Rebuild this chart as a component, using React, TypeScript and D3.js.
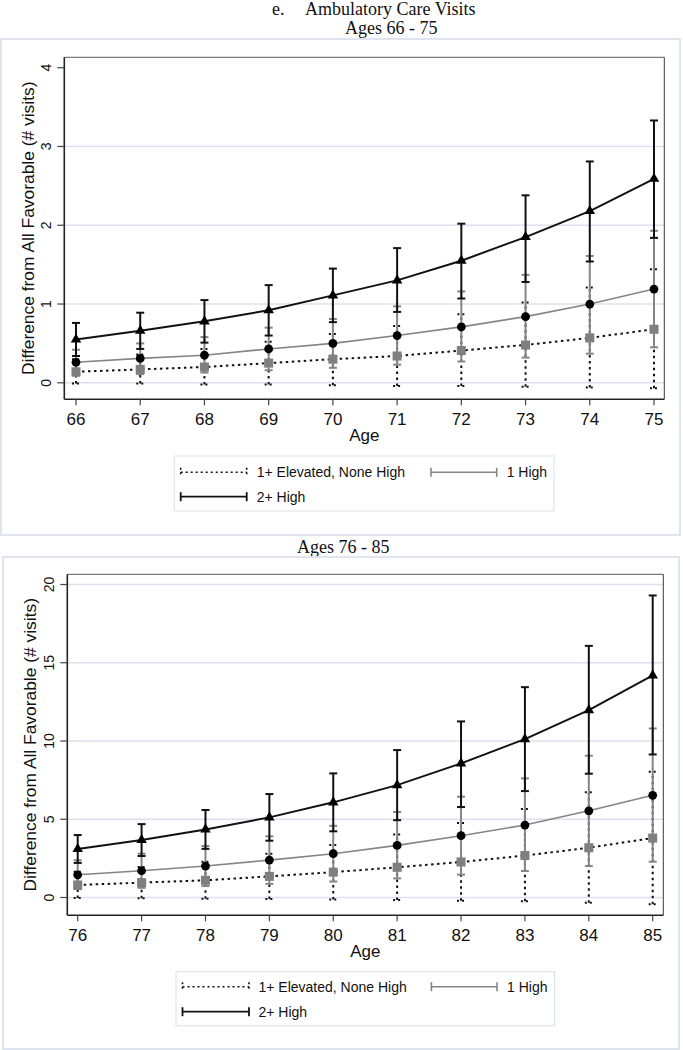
import React from "react";
import * as d3 from "d3";

// ---------- data ----------
const agesTop = [66, 67, 68, 69, 70, 71, 72, 73, 74, 75];
const topElev = [0.14, 0.17, 0.2, 0.25, 0.3, 0.34, 0.41, 0.48, 0.57, 0.68];
const topElevLo = [-0.01, -0.01, -0.02, -0.02, -0.03, -0.04, -0.04, -0.05, -0.06, -0.07];
const topElevHi = [0.3, 0.36, 0.43, 0.52, 0.62, 0.72, 0.87, 1.02, 1.21, 1.44];
const topOne = [0.26, 0.31, 0.35, 0.43, 0.5, 0.6, 0.71, 0.84, 1.0, 1.19];
const topOneLo = [0.09, 0.11, 0.13, 0.16, 0.19, 0.23, 0.27, 0.32, 0.37, 0.45];
const topOneHi = [0.42, 0.5, 0.58, 0.7, 0.81, 0.97, 1.16, 1.37, 1.61, 1.93];
const topTwo = [0.55, 0.66, 0.78, 0.92, 1.11, 1.3, 1.55, 1.85, 2.18, 2.59];
const topTwoLo = [0.34, 0.43, 0.51, 0.6, 0.77, 0.9, 1.07, 1.28, 1.54, 1.84];
const topTwoHi = [0.76, 0.89, 1.05, 1.24, 1.45, 1.71, 2.02, 2.38, 2.81, 3.33];
const topYTicks = [0, 1, 2, 3, 4];
const topGrid = [0, 1, 2, 3];

const agesBot = [76, 77, 78, 79, 80, 81, 82, 83, 84, 85];
const botElev = [0.8, 0.95, 1.1, 1.35, 1.62, 1.93, 2.27, 2.68, 3.18, 3.8];
const botElevLo = [-0.03, -0.05, -0.08, -0.1, -0.12, -0.16, -0.2, -0.24, -0.33, -0.43];
const botElevHi = [1.65, 1.95, 2.28, 2.8, 3.36, 4.02, 4.76, 5.66, 6.72, 8.03];
const botOne = [1.45, 1.71, 2.01, 2.39, 2.8, 3.33, 3.95, 4.63, 5.54, 6.53];
const botOneLo = [0.54, 0.62, 0.73, 0.87, 1.02, 1.22, 1.46, 1.69, 2.01, 2.29];
const botOneHi = [2.38, 2.8, 3.29, 3.91, 4.58, 5.46, 6.44, 7.61, 9.06, 10.8];
const botTwo = [3.1, 3.67, 4.35, 5.12, 6.08, 7.18, 8.57, 10.12, 11.97, 14.19];
const botTwoLo = [2.21, 2.65, 3.11, 3.63, 4.23, 4.94, 5.78, 6.8, 7.91, 9.14];
const botTwoHi = [3.99, 4.69, 5.59, 6.61, 7.93, 9.42, 11.25, 13.44, 16.08, 19.3];
const botYTicks = [0, 5, 10, 15, 20];
const botGrid = [0, 5, 10, 15, 20];

const seriesNames = ["1+ Elevated, None High", "1 High", "2+ High"];
const mainTitlePrefix = "e.";
const mainTitle = "Ambulatory Care Visits";
const subTitles = ["Ages 66 - 75", "Ages 76 - 85"];
const xTitle = "Age";
const yTitle = "Difference from All Favorable (# visits)";

// ---------- styles ----------
const GRAY = "#858585";
const SQ = "#7f7f7f";
const FRAME = "#dfe5ef";
const GRID = "#dbe2ee";
const SANS = "'Liberation Sans', Arial, sans-serif";
const SERIF = "'Liberation Serif', 'Times New Roman', serif";
const DOT = "2.5,3.5";

type PanelProps = {
  frame: [number, number, number, number];
  box: [number, number, number, number];
  xDom: [number, number];
  xRange: [number, number];
  yDom: [number, number];
  yRange: [number, number];
  ages: number[];
  elev: number[]; elevLo: number[]; elevHi: number[];
  one: number[]; oneLo: number[]; oneHi: number[];
  two: number[]; twoLo: number[]; twoHi: number[];
  yTicks: number[];
  grid: number[];
  yLabelX: number;
  yTitleX: number;
  legend: { x0: number; x1: number; y0: number; y1: number; r1: number; r2: number; k1: number; k2: number; t1: number; g1: number; g2: number; t2: number };
};

function ErrBars({ x, y, ages, lo, hi, color, dash }: any) {
  return (
    <g>
      {ages.map((a: number, i: number) => (
        <g key={i} stroke={color} strokeWidth={2} fill="none">
          <line x1={x(a)} x2={x(a)} y1={y(lo[i])} y2={y(hi[i])} strokeDasharray={dash} />
          <line x1={x(a) - 4} x2={x(a) + 4} y1={y(lo[i])} y2={y(lo[i])} strokeDasharray={dash ? "2,3" : undefined} />
          <line x1={x(a) - 4} x2={x(a) + 4} y1={y(hi[i])} y2={y(hi[i])} strokeDasharray={dash ? "2,3" : undefined} />
        </g>
      ))}
    </g>
  );
}

function LegendKey({ x0, x1, y, color, dash, width }: any) {
  return (
    <g stroke={color} strokeWidth={width} fill="none">
      <line x1={x0} x2={x1} y1={y} y2={y} strokeDasharray={dash} />
      <line x1={x0} x2={x0} y1={y - 4.5} y2={y + 4.5} strokeDasharray={dash ? "2,2.5" : undefined} />
      <line x1={x1} x2={x1} y1={y - 4.5} y2={y + 4.5} strokeDasharray={dash ? "2,2.5" : undefined} />
    </g>
  );
}

function Panel(p: PanelProps) {
  const x = d3.scaleLinear().domain(p.xDom).range(p.xRange);
  const y = d3.scaleLinear().domain(p.yDom).range(p.yRange);
  const line = (vals: number[]) =>
    d3.line<number>().x((_, i) => x(p.ages[i])).y((v) => y(v))(vals) || "";
  const tri = d3.symbol().type(d3.symbolTriangle).size(48)() || "";
  const sq = d3.symbol().type(d3.symbolSquare).size(82)() || "";
  const [bx0, by0, bx1, by1] = p.box;
  const [fx0, fy0, fx1, fy1] = p.frame;
  const L = p.legend;
  return (
    <g>
      <rect x={fx0} y={fy0} width={fx1 - fx0} height={fy1 - fy0} fill="white" stroke={FRAME} strokeWidth={2} />
      {/* gridlines */}
      {p.grid.map((g) => (
        <line key={g} x1={bx0} x2={bx1} y1={y(g)} y2={y(g)} stroke={GRID} strokeWidth={1.5} />
      ))}
      {/* box top/right */}
      <line x1={bx0} x2={bx1} y1={by0} y2={by0} stroke="#5a5a5a" strokeWidth={1} />
      <line x1={bx1} x2={bx1} y1={by0} y2={by1} stroke="#3a3a3a" strokeWidth={1} />
      {/* axes */}
      <line x1={bx0} x2={bx0} y1={by0} y2={by1} stroke="#222" strokeWidth={1.6} />
      <line x1={bx0} x2={bx1} y1={by1} y2={by1} stroke="#222" strokeWidth={1.6} />
      {p.yTicks.map((t) => (
        <g key={t}>
          <line x1={bx0 - 7} x2={bx0} y1={y(t)} y2={y(t)} stroke="#444" strokeWidth={1.2} />
          <text
            transform={`translate(${p.yLabelX},${y(t)}) rotate(-90)`}
            textAnchor="middle"
            fontFamily={SANS}
            fontSize={14}
            fill="#111"
          >
            {t}
          </text>
        </g>
      ))}
      {p.ages.map((a) => (
        <g key={a}>
          <line x1={x(a)} x2={x(a)} y1={by1} y2={by1 + 6} stroke="#444" strokeWidth={1.2} />
          <text x={x(a)} y={by1 + 26} textAnchor="middle" fontFamily={SANS} fontSize={17} fill="#111">
            {a}
          </text>
        </g>
      ))}
      <text x={(bx0 + bx1) / 2} y={by1 + 42} textAnchor="middle" fontFamily={SANS} fontSize={17} fill="#111">
        {xTitle}
      </text>
      <text
        transform={`translate(${p.yTitleX},${(by0 + by1) / 2}) rotate(-90)`}
        textAnchor="middle"
        fontFamily={SANS}
        fontSize={17.4}
        fill="#111"
      >
        {yTitle}
      </text>
      {/* error bars */}
      <ErrBars x={x} y={y} ages={p.ages} lo={p.elevLo} hi={p.elevHi} color="#111" dash={DOT} />
      <ErrBars x={x} y={y} ages={p.ages} lo={p.oneLo} hi={p.oneHi} color={GRAY} />
      <ErrBars x={x} y={y} ages={p.ages} lo={p.twoLo} hi={p.twoHi} color="#111" />
      {/* lines */}
      <path d={line(p.elev)} fill="none" stroke="#111" strokeWidth={2} strokeDasharray={DOT} />
      <path d={line(p.one)} fill="none" stroke={GRAY} strokeWidth={1.6} />
      <path d={line(p.two)} fill="none" stroke="#111" strokeWidth={2} />
      {/* markers */}
      {p.ages.map((a, i) => (
        <path key={"s" + i} d={sq} transform={`translate(${x(a)},${y(p.elev[i])})`} fill={SQ} />
      ))}
      {p.ages.map((a, i) => (
        <circle key={"c" + i} cx={x(a)} cy={y(p.one[i])} r={4.4} fill="#000" />
      ))}
      {p.ages.map((a, i) => (
        <path key={"t" + i} d={tri} transform={`translate(${x(a)},${y(p.two[i])})`} fill="#000" />
      ))}
      {/* legend */}
      <rect x={L.x0} y={L.y0} width={L.x1 - L.x0} height={L.y1 - L.y0} fill="white" stroke={FRAME} strokeWidth={1.2} />
      <LegendKey x0={L.k1} x1={L.k2} y={L.r1} color="#111" dash="2,3" width={1.6} />
      <text x={L.t1} y={L.r1 + 5} fontFamily={SANS} fontSize={14} fill="#111">{seriesNames[0]}</text>
      <LegendKey x0={L.g1} x1={L.g2} y={L.r1} color={GRAY} width={1.6} />
      <text x={L.t2} y={L.r1 + 5} fontFamily={SANS} fontSize={14} fill="#111">{seriesNames[1]}</text>
      <LegendKey x0={L.k1} x1={L.k2} y={L.r2} color="#111" width={1.8} />
      <text x={L.t1} y={L.r2 + 5} fontFamily={SANS} fontSize={14} fill="#111">{seriesNames[2]}</text>
    </g>
  );
}

export default function App() {
  return (
    <svg
      width={683}
      height={1050}
      style={{ position: "absolute", left: 0, top: 0, background: "white" }}
    >
      <text x={272} y={15} fontFamily={SERIF} fontSize={18} fill="#111">{mainTitlePrefix}</text>
      <text x={305} y={15} fontFamily={SERIF} fontSize={18} fill="#111">{mainTitle}</text>
      <text x={345} y={34} fontFamily={SERIF} fontSize={18} fill="#111">{subTitles[0]}</text>
      <Panel
        frame={[1, 39, 680, 535]}
        box={[64.3, 57.3, 664.3, 399.3]}
        xDom={[agesTop[0], agesTop[agesTop.length - 1]]}
        xRange={[76, 654]}
        yDom={[0, 4]}
        yRange={[382.8, 67.7]}
        ages={agesTop}
        elev={topElev} elevLo={topElevLo} elevHi={topElevHi}
        one={topOne} oneLo={topOneLo} oneHi={topOneHi}
        two={topTwo} twoLo={topTwoLo} twoHi={topTwoHi}
        yTicks={topYTicks}
        grid={topGrid}
        yLabelX={51}
        yTitleX={33.5}
        legend={{ x0: 174.3, x1: 554, y0: 456, y1: 511, r1: 472.3, r2: 496.7, k1: 180.7, k2: 246.7, t1: 256.7, g1: 431, g2: 496.7, t2: 506.7 }}
      />
      <text x={297} y={553} fontFamily={SERIF} fontSize={18} fill="#111">{subTitles[1]}</text>
      <Panel
        frame={[3, 557, 679, 1049]}
        box={[67.3, 574.3, 663.3, 915.3]}
        xDom={[agesBot[0], agesBot[agesBot.length - 1]]}
        xRange={[77.7, 652.7]}
        yDom={[0, 20]}
        yRange={[897.5, 584.5]}
        ages={agesBot}
        elev={botElev} elevLo={botElevLo} elevHi={botElevHi}
        one={botOne} oneLo={botOneLo} oneHi={botOneHi}
        two={botTwo} twoLo={botTwoLo} twoHi={botTwoHi}
        yTicks={botYTicks}
        grid={botGrid}
        yLabelX={53.5}
        yTitleX={35.5}
        legend={{ x0: 176, x1: 554.6, y0: 971.7, y1: 1025.7, r1: 986.7, r2: 1011.7, k1: 182.5, k2: 249, t1: 258.5, g1: 431.4, g2: 497, t2: 507 }}
      />
    </svg>
  );
}
